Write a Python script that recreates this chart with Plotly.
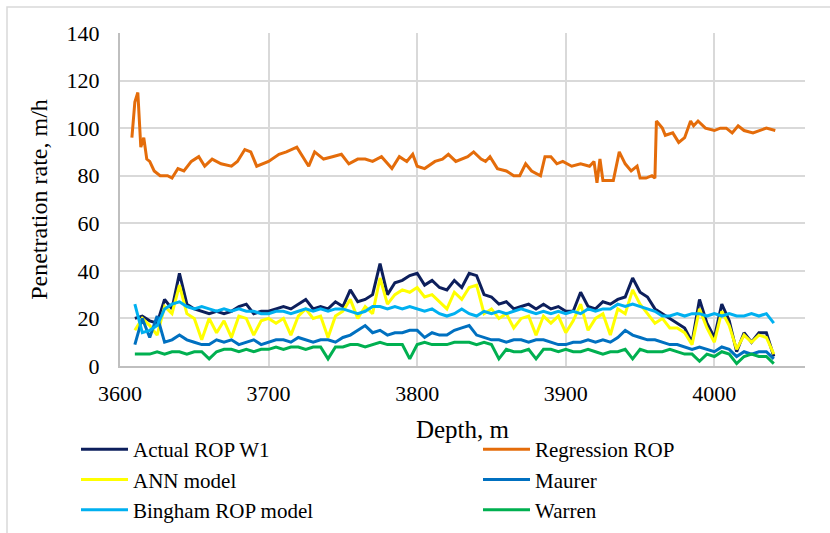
import plotly.graph_objects as go

# ---------------- data ----------------
depth = [3610, 3615, 3620, 3625, 3630, 3635, 3640, 3645, 3650, 3655,
         3660, 3665, 3670, 3675, 3680, 3685, 3690, 3695, 3700, 3705,
         3710, 3715, 3720, 3725, 3730, 3735, 3740, 3745, 3750, 3755,
         3760, 3765, 3770, 3775, 3780, 3785, 3790, 3795, 3800, 3805,
         3810, 3815, 3820, 3825, 3830, 3835, 3840, 3845, 3850, 3855,
         3860, 3865, 3870, 3875, 3880, 3885, 3890, 3895, 3900, 3905,
         3910, 3915, 3920, 3925, 3930, 3935, 3940, 3945, 3950, 3955,
         3960, 3965, 3970, 3975, 3980, 3985, 3990, 3995, 4000, 4005,
         4010, 4015, 4020, 4025, 4030, 4035, 4040]

actual_rop = [20, 21, 19, 18, 28, 24, 39, 26, 24, 23,
              22, 23, 22, 23, 25, 26, 22, 23, 23, 24,
              25, 24, 26, 28, 24, 25, 24, 27, 25, 32,
              27, 28, 30, 43, 30, 35, 36, 38, 39, 34,
              36, 33, 32, 36, 33, 39, 38, 30, 29, 26,
              27, 24, 25, 26, 24, 26, 24, 25, 23, 23,
              31, 25, 24, 27, 26, 28, 29, 37, 31, 29,
              24, 22, 20, 18, 16, 10, 28, 18, 12, 26,
              19, 6, 14, 10, 14, 14, 4]

ann_model = [15, 20, 17, 13, 25, 22, 34, 22, 20, 11,
             20, 14, 19, 12, 21, 20, 13, 19, 20, 18,
             20, 13, 21, 24, 20, 21, 12, 21, 23, 28,
             20, 25, 22, 37, 26, 30, 32, 31, 33, 29,
             30, 27, 24, 31, 28, 33, 34, 22, 24, 20,
             22, 16, 20, 21, 13, 21, 18, 21, 14, 19,
             26, 15, 20, 22, 13, 24, 22, 32, 26, 22,
             18, 20, 16, 16, 14, 9, 24, 16, 10, 23,
             17, 7, 13, 10, 13, 12, 5]

maurer = [9, 20, 12, 21, 10, 11, 13, 11, 10, 9,
          9, 11, 10, 11, 9, 10, 11, 9, 10, 11,
          11, 10, 12, 11, 10, 11, 11, 10, 12, 13,
          15, 17, 14, 15, 13, 14, 14, 15, 15, 12,
          14, 13, 13, 15, 16, 17, 13, 12, 11, 11,
          10, 11, 11, 10, 11, 11, 10, 9, 9, 10,
          10, 11, 10, 11, 10, 12, 15, 13, 12, 11,
          11, 10, 9, 9, 8, 7, 8, 7, 6, 8,
          7, 4, 6, 5, 6, 6, 3]

bingham = [26, 14, 15, 17, 24, 26, 27, 25, 24, 25,
           24, 23, 24, 23, 24, 23, 23, 22, 22, 23,
           23, 22, 23, 24, 23, 24, 23, 24, 24, 23,
           22, 23, 25, 25, 24, 25, 24, 25, 24, 23,
           24, 22, 21, 22, 24, 22, 21, 23, 22, 23,
           22, 23, 24, 23, 22, 23, 22, 23, 22, 23,
           22, 24, 23, 24, 24, 26, 25, 26, 25, 24,
           23, 21, 21, 22, 21, 22, 22, 21, 22, 21,
           22, 21, 21, 22, 21, 22, 18]

warren = [5, 5, 5, 6, 5, 6, 6, 5, 6, 6,
          3, 6, 7, 7, 6, 7, 6, 7, 7, 8,
          7, 8, 8, 7, 8, 8, 3, 8, 8, 9,
          9, 8, 9, 10, 9, 9, 9, 3, 9, 10,
          9, 9, 9, 10, 10, 10, 9, 10, 9, 3,
          7, 6, 6, 7, 3, 7, 7, 6, 7, 6,
          6, 7, 6, 5, 6, 6, 7, 3, 7, 6,
          6, 6, 7, 6, 5, 5, 2, 5, 4, 6,
          5, 1, 4, 5, 4, 4, 1]

reg_depth = [3608, 3610, 3612, 3614, 3616, 3618, 3620, 3623, 3627, 3632,
             3635, 3639, 3643, 3648, 3653, 3657, 3662, 3668, 3675, 3679,
             3684, 3688, 3692, 3700, 3707, 3712, 3719, 3723, 3727, 3731,
             3737, 3743, 3749, 3754, 3760, 3765, 3770, 3776, 3783, 3788,
             3793, 3797, 3800, 3805, 3812, 3817, 3821, 3826, 3830, 3834,
             3838, 3843, 3846, 3849, 3854, 3860, 3865, 3869, 3873, 3877,
             3883, 3886, 3890, 3894, 3898, 3904, 3910, 3916, 3919, 3921,
             3923, 3925, 3930, 3932, 3936, 3940, 3944, 3948, 3950, 3954,
             3958, 3960, 3961, 3965, 3967, 3972, 3976, 3980, 3984, 3986,
             3989, 3994, 4000, 4004, 4008, 4012, 4016, 4020, 4026, 4030,
             4035, 4041]

regression_rop = [96, 111, 115, 92, 96, 87, 86, 82, 80, 80,
                  79, 83, 82, 86, 88, 84, 87, 85, 84, 86,
                  91, 90, 84, 86, 89, 90, 92, 88, 84, 90,
                  87, 88, 89, 85, 87, 87, 86, 88, 83, 88,
                  86, 89, 84, 83, 86, 87, 89, 86, 87, 88,
                  90, 87, 86, 88, 83, 82, 80, 80, 85, 82,
                  80, 88, 88, 85, 86, 84, 85, 84, 86, 77,
                  87, 78, 78, 78, 90, 85, 82, 84, 79, 79,
                  80, 79, 103, 100, 97, 98, 94, 96, 103, 101,
                  103, 100, 99, 100, 100, 98, 101, 99, 98, 99,
                  100, 99]

x_ticks = [3600, 3700, 3800, 3900, 4000]
y_ticks = [0, 20, 40, 60, 80, 100, 120, 140]

# ---------------- figure ----------------
FONT = "Liberation Serif, Times New Roman, serif"
W, H = 830, 533
L, R, T, B = 120, 25, 33, 167
pw, ph = W - L - R, H - T - B

fig = go.Figure()
series = [
    ("Actual ROP W1", depth, actual_rop, "#0d1f5c", "legend"),
    ("Regression ROP", reg_depth, regression_rop, "#e46c0a", "legend2"),
    ("ANN model", depth, ann_model, "#ffff00", "legend"),
    ("Maurer", depth, maurer, "#0070c0", "legend2"),
    ("Bingham ROP model", depth, bingham, "#00b0f0", "legend"),
    ("Warren", depth, warren, "#00b050", "legend2"),
]
for name, xs, ys, col, lg in series:
    fig.add_trace(go.Scatter(x=xs, y=ys, mode="lines", name=name, legend=lg,
                             line=dict(color=col, width=3)))

leg_common = dict(orientation="v", xanchor="left", yanchor="top",
                  font=dict(family=FONT, size=21, color="#000000"),
                  tracegroupgap=0, bgcolor="rgba(0,0,0,0)",
                  itemwidth=47, traceorder="normal")
leg_top = (H - B - 429) / ph

fig.update_layout(
    width=W, height=H,
    margin=dict(l=L, r=R, t=T, b=B, autoexpand=False),
    paper_bgcolor="white", plot_bgcolor="white",
    font=dict(family=FONT, color="#000000"),
    showlegend=True,
    legend=dict(x=(76 - L) / pw, y=leg_top, **leg_common),
    legend2=dict(x=(478 - L) / pw, y=leg_top, **leg_common),
    xaxis=dict(range=[3600, 4061], tickvals=x_ticks,
               showgrid=True, gridcolor="#d9d9d9", gridwidth=2,
               showline=True, linecolor="#bfbfbf", linewidth=2,
               zeroline=False, ticks="", ticklabelstandoff=7,
               tickfont=dict(family=FONT, size=22),
               title=dict(text="Depth, m", standoff=15,
                          font=dict(family=FONT, size=25))),
    yaxis=dict(range=[0, 140], tickvals=y_ticks,
               showgrid=True, gridcolor="#d9d9d9", gridwidth=2,
               showline=True, linecolor="#bfbfbf", linewidth=2,
               zeroline=False, ticks="", ticklabelstandoff=14,
               tickfont=dict(family=FONT, size=22),
               title=dict(text="Penetration rate, m/h", standoff=12,
                          font=dict(family=FONT, size=24))),
)

# light outer frame of the chart
fig.add_shape(type="rect", xref="paper", yref="paper",
              x0=(7 - L) / pw, x1=(845 - L) / pw,
              y0=(H - B - 545) / ph, y1=(H - B - 7) / ph,
              line=dict(color="#d9d9d9", width=1.5), fillcolor="rgba(0,0,0,0)",
              layer="below")

fig.write_html("out.html")
